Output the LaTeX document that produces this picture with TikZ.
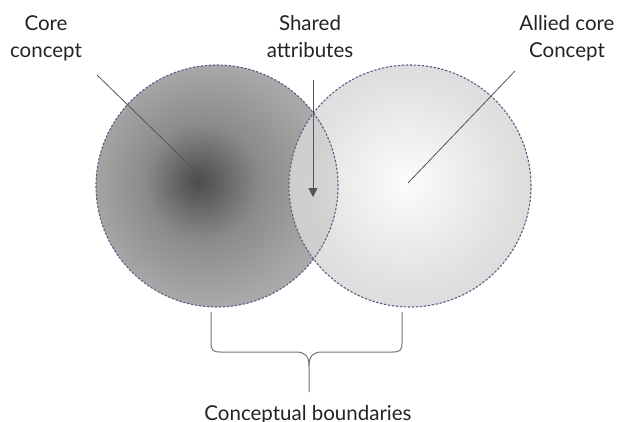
\documentclass[tikz,border=0pt]{standalone}
\usepackage{fontspec}
\setmainfont{Lato}
\usepackage{tikz}
\usetikzlibrary{arrows.meta,calc}
\definecolor{rimblue}{RGB}{90,95,135}
\definecolor{leadgray}{RGB}{85,85,85}
\definecolor{textgray}{RGB}{35,35,35}
\definecolor{coredark}{RGB}{76,74,74}
\definecolor{coremid}{RGB}{140,139,139}
\definecolor{corelight}{RGB}{170,169,170}
\definecolor{coreedge}{RGB}{195,194,195}
\definecolor{alliedcentre}{RGB}{252,252,252}
\definecolor{alliedmid}{RGB}{226,226,226}
\definecolor{alliededge}{RGB}{198,198,198}
\pgfdeclareradialshading{coreshade}{\pgfpoint{-4bp}{1bp}}{%
  color(0bp)=(coredark); color(12bp)=(coremid); color(25bp)=(corelight);
  color(50bp)=(coreedge)}
\pgfdeclareradialshading{alliedshade}{\pgfpoint{-1bp}{1bp}}{%
  color(0bp)=(alliedcentre); color(20bp)=(alliedmid); color(50bp)=(alliededge)}

\begin{document}
\begin{tikzpicture}[
  x=1pt, y=-1pt,
  font=\fontsize{20.5}{27}\selectfont,
  lbl/.style={align=center, inner sep=0pt, text=textgray, anchor=base},
  blob/.style={circle, minimum size=242pt, inner sep=0pt},
  rim/.style={draw=rimblue, line width=1.1pt, dash pattern=on 2.4pt off 1.6pt},
  lead/.style={leadgray, line width=0.8pt},
  ar/.style={-{Triangle[length=9pt,width=9pt]}, leadgray, line width=0.9pt},
  brace/.style={draw=gray!90!black, line width=1pt}
]
\useasboundingbox (0,0) rectangle (617,421);
\clip (0,0) rectangle (617,421);

% the two concepts
\node[blob, shading=coreshade] (core) at (217,186) {};
\node[blob, shading=alliedshade] (allied) at (410,186) {};
\begin{scope}
  \clip (core.center) circle (121pt);
  \fill[leadgray, opacity=0.12] (allied.center) circle (121pt);
\end{scope}
\draw[rim] (core.center) circle (121pt);
\draw[rim] (allied.center) circle (121pt);

% labels (base = last line)
\node[lbl] (corelbl) at (46,57) {Core\\concept};
\node[lbl] (sharedlbl) at (310,57) {Shared\\attributes};
\node[lbl] (alliedlbl) at (567,57) {Allied core\\Concept};
\node[lbl] (boundlbl) at (308,420) {Conceptual boundaries};

% leader lines
\coordinate (corelead) at (97,75);
\coordinate (corept) at ($(core.center)+(-9,-3)$);
\coordinate (alliedlead) at (515,71);
\coordinate (alliedpt) at ($(allied.center)+(-2,-3)$);
\coordinate (sharedlead) at (313,80);
\coordinate (sharedpt) at (313,197);
\draw[lead] (corelead) -- (corept);
\draw[lead] (alliedlead) -- (alliedpt);
\draw[ar] (sharedlead) -- (sharedpt);

% brace
\coordinate (bl) at (211,312);
\coordinate (br) at (402,312);
\coordinate (bt) at (309,392);
\draw[brace] (bl) -- (211,343) .. controls (211,350) and (213,352) .. (220,352)
  -- (296,352) .. controls (305,352) and (309,356) .. (309,366) -- (bt);
\draw[brace] (br) -- (402,343) .. controls (402,350) and (400,352) .. (393,352)
  -- (322,352) .. controls (313,352) and (309,356) .. (309,366);
\end{tikzpicture}
\end{document}
